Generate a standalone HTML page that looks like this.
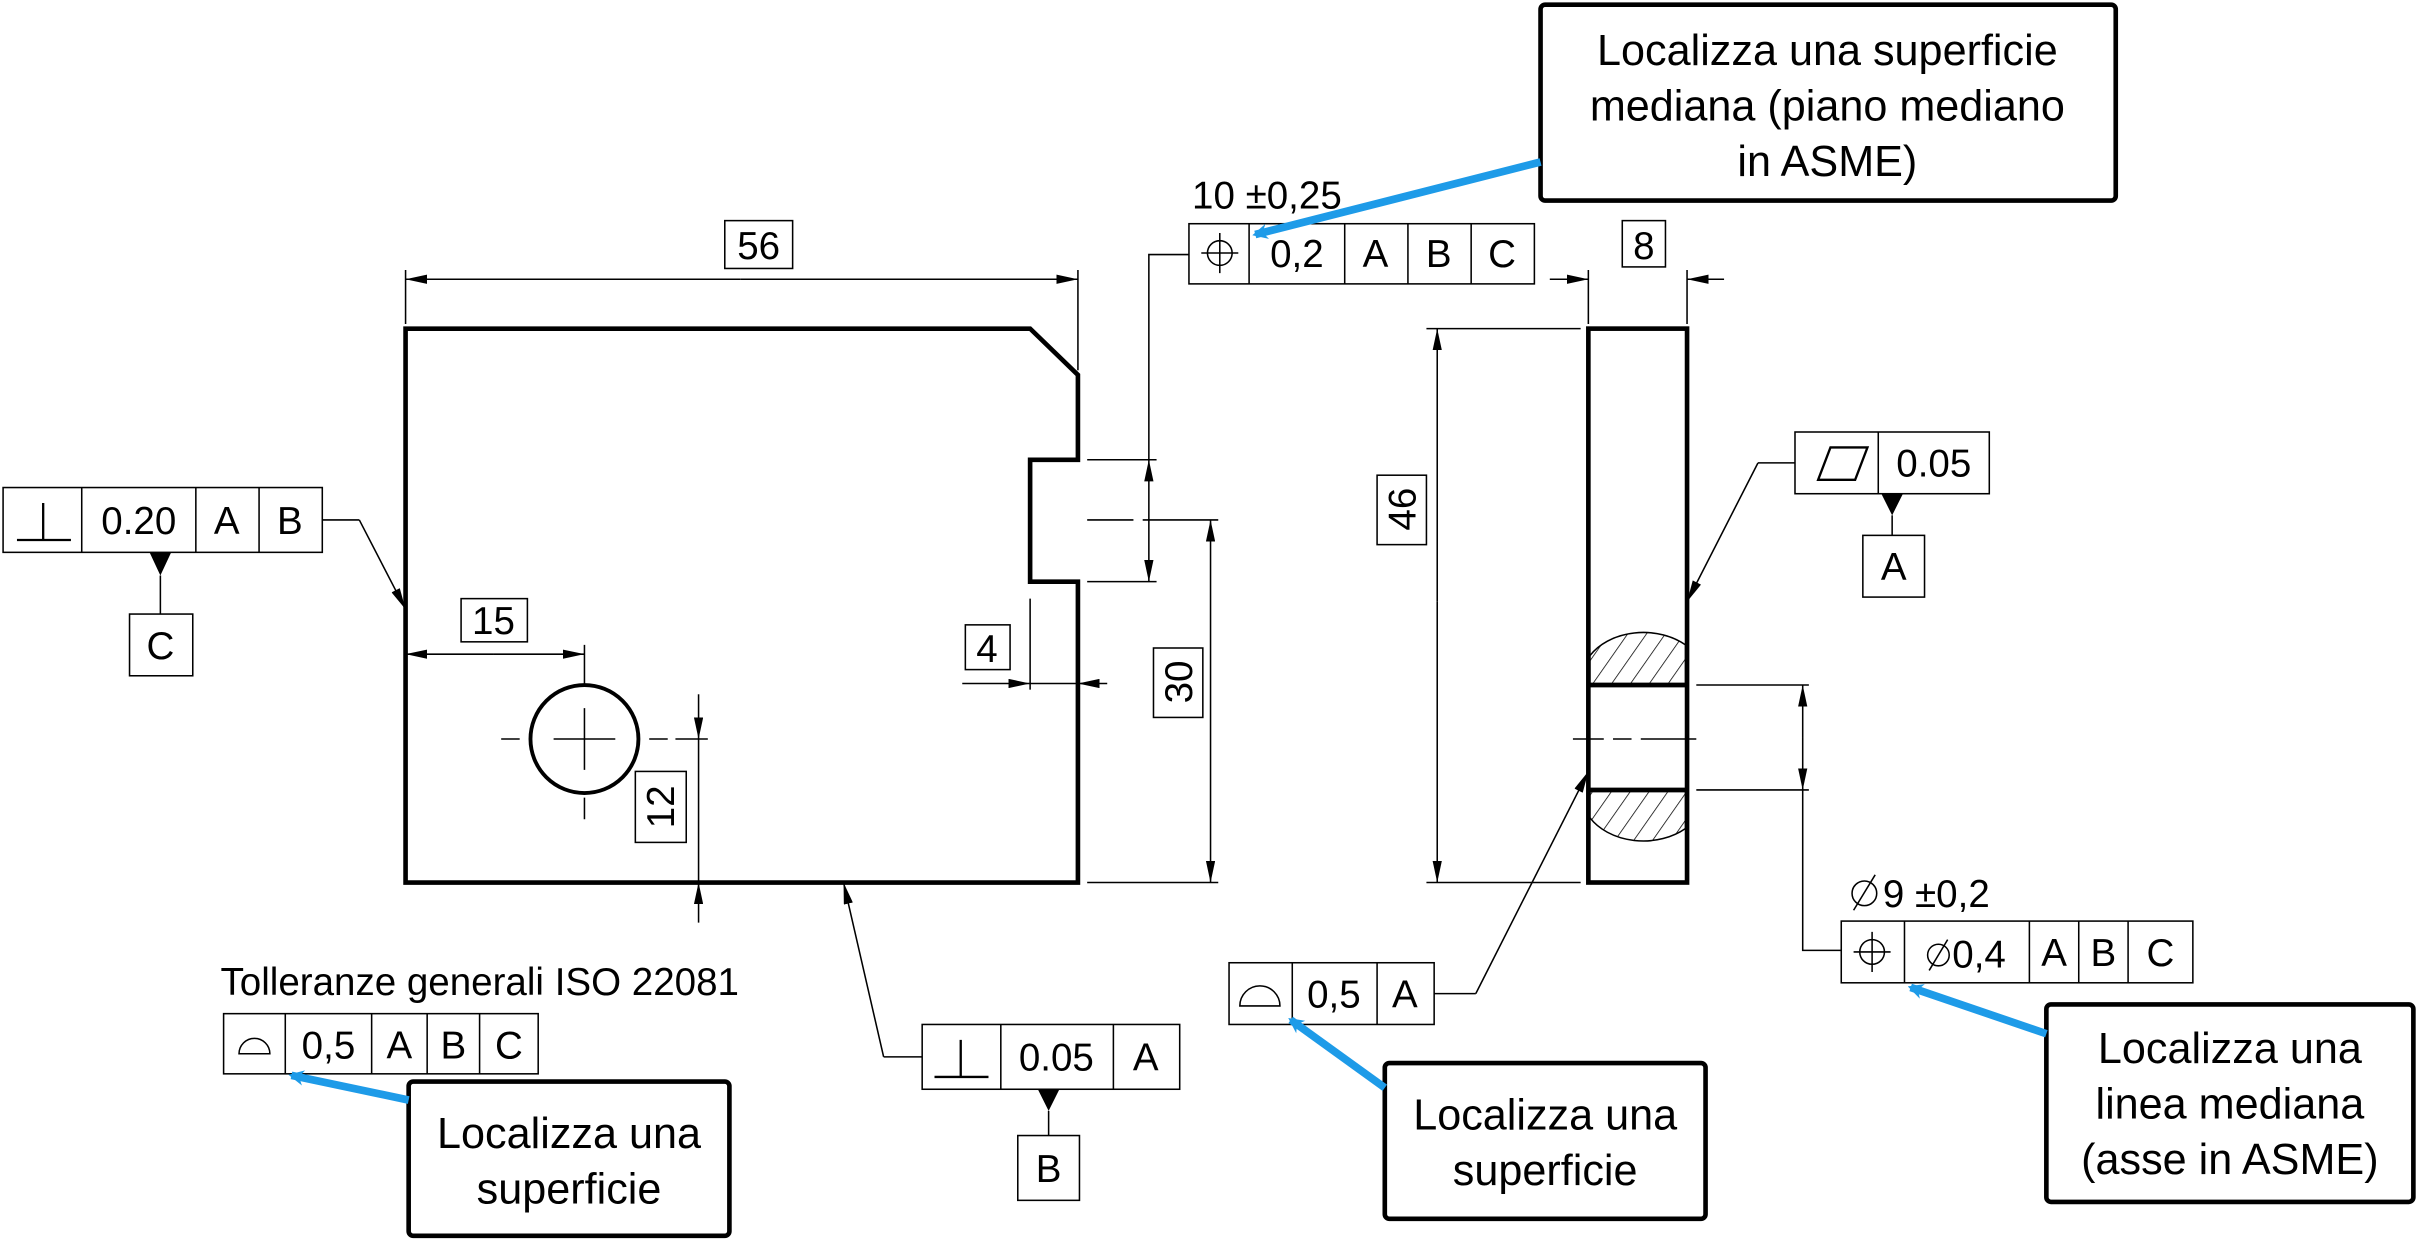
<!DOCTYPE html>
<html><head><meta charset="utf-8"><style>
html,body{margin:0;padding:0;background:#fff;}
svg{display:block;}
text{font-family:"Liberation Sans",sans-serif;fill:#000;}
</style></head><body>
<svg width="2418" height="1242" viewBox="0 0 1568 805" preserveAspectRatio="none" xmlns="http://www.w3.org/2000/svg">
<defs>
<marker id="a" viewBox="0 0 14 6" refX="14" refY="3" markerWidth="14" markerHeight="6" markerUnits="userSpaceOnUse" orient="auto"><path d="M0,0 L14,3 L0,6z" fill="#000"/></marker>
<marker id="b" viewBox="0 0 10 10" refX="8" refY="5" markerWidth="10" markerHeight="10" markerUnits="userSpaceOnUse" orient="auto"><path d="M0,0 L10,5 L0,10 L3,5z" fill="#1e9be8"/></marker>
<pattern id="h" width="10" height="10" patternUnits="userSpaceOnUse" patternTransform="rotate(35)"><line x1="0" y1="0" x2="0" y2="10" stroke="#000" stroke-width="1"/></pattern>
</defs>
<g fill="none" stroke="#000" stroke-width="1">
<path d="M263,213 H668 L699,243 V298 H668 V377 H699 V572 H263 Z" stroke-width="3"/>
<line x1="263" y1="175" x2="263" y2="210"/><line x1="699" y1="175" x2="699" y2="240"/>
<line x1="480" y1="181" x2="263" y2="181" marker-end="url(#a)"/><line x1="480" y1="181" x2="699" y2="181" marker-end="url(#a)"/>
<rect x="470" y="143" width="44" height="31"/>
<circle cx="379" cy="479" r="35" stroke-width="2.5"/>
<path d="M325,479 H337 M359,479 H399 M421,479 H433 M379,459 V499 M379,517 V531 M379,418 V445"/>
<line x1="320" y1="424" x2="379" y2="424" marker-end="url(#a)"/><line x1="320" y1="424" x2="263" y2="424" marker-end="url(#a)"/>
<rect x="299" y="388" width="43" height="28"/>
<path d="M438,479 H459"/>
<line x1="453" y1="450" x2="453" y2="479" marker-end="url(#a)"/>
<line x1="453" y1="598" x2="453" y2="572" marker-end="url(#a)"/>
<line x1="453" y1="479" x2="453" y2="572"/>
<rect x="412" y="500" width="33" height="46"/>
<line x1="668" y1="388" x2="668" y2="447"/>
<line x1="624" y1="443" x2="668" y2="443" marker-end="url(#a)"/>
<line x1="718" y1="443" x2="699" y2="443" marker-end="url(#a)"/>
<line x1="668" y1="443" x2="699" y2="443"/>
<rect x="626" y="405" width="29" height="29"/>
<path d="M705,298 H750 M705,377 H750 M705,337 H735 M741,337 H790 M705,572 H790"/>
<line x1="745" y1="337" x2="745" y2="298" marker-end="url(#a)"/><line x1="745" y1="337" x2="745" y2="377" marker-end="url(#a)"/>
<path d="M745,298 V165 H771"/>
<line x1="785" y1="455" x2="785" y2="337" marker-end="url(#a)"/><line x1="785" y1="455" x2="785" y2="572" marker-end="url(#a)"/>
<rect x="748" y="420" width="32" height="45"/>
<rect x="771" y="145" width="224" height="39"/>
<path d="M810,145 V184 M872,145 V184 M913,145 V184 M954,145 V184"/>
<circle cx="791" cy="164" r="8"/><path d="M779,164 H803 M791,151 V177"/>
<rect x="2" y="316" width="207" height="42"/>
<path d="M53,316 V358 M127,316 V358 M168,316 V358"/>
<path d="M11,350 H46 M28,326 V350" stroke-width="1.5"/>
<path d="M104,373 V398"/><rect x="84" y="398" width="41" height="40"/>
<polyline points="209,337 233,337"/>
<line x1="233" y1="337" x2="263" y2="395" marker-end="url(#a)"/>
<rect x="598" y="664" width="167" height="42"/>
<path d="M649,664 V706 M722,664 V706"/>
<path d="M606,698 H641 M623,674 V698" stroke-width="1.5"/>
<path d="M680,720 V736"/><rect x="660" y="736" width="40" height="42"/>
<polyline points="598,685 573,685"/>
<line x1="573" y1="685" x2="547" y2="572" marker-end="url(#a)"/>
<rect x="145" y="657" width="204" height="39"/>
<path d="M185,657 V696 M241,657 V696 M277,657 V696 M311,657 V696"/>
<path d="M155,683 A10,10 0 0 1 175,683 Z"/>
<rect x="1030" y="213" width="64" height="359" stroke-width="3"/>
<path d="M1030,444 H1094 M1030,512 H1094" stroke-width="3"/>
<path d="M1031,443 V425 A40,30 0 0 1 1093,418 V443 Z" fill="url(#h)"/>
<path d="M1031,513 V530 A40,30 0 0 0 1093,537 V513 Z" fill="url(#h)"/>
<path d="M1020,479 H1040 M1046,479 H1058 M1064,479 H1100"/>
<path d="M1030,175 V210 M1094,175 V210"/>
<line x1="1005" y1="181" x2="1030" y2="181" marker-end="url(#a)"/>
<line x1="1118" y1="181" x2="1094" y2="181" marker-end="url(#a)"/>
<rect x="1052" y="143" width="28" height="30"/>
<path d="M925,213 H1025 M925,572 H1025"/>
<line x1="932" y1="390" x2="932" y2="213" marker-end="url(#a)"/><line x1="932" y1="390" x2="932" y2="572" marker-end="url(#a)"/>
<rect x="893" y="308" width="32" height="45"/>
<rect x="1164" y="280" width="126" height="40"/>
<path d="M1218,280 V320"/>
<path d="M1179,311 L1187,290 H1211 L1203,311 Z" stroke-width="1.5"/>
<path d="M1227,334 V347"/><rect x="1208" y="347" width="40" height="40"/>
<polyline points="1164,300 1140,300"/>
<line x1="1140" y1="300" x2="1094" y2="390" marker-end="url(#a)"/>
<path d="M1100,444 H1173 M1100,512 H1173"/>
<line x1="1169" y1="478" x2="1169" y2="444" marker-end="url(#a)"/><line x1="1169" y1="478" x2="1169" y2="512" marker-end="url(#a)"/>
<path d="M1169,512 V616 H1194"/>
<rect x="1194" y="597" width="228" height="40"/>
<path d="M1235,597 V637 M1316,597 V637 M1348,597 V637 M1380,597 V637"/>
<circle cx="1214" cy="617" r="8"/><path d="M1202,617 H1226 M1214,604 V630"/>
<rect x="797" y="624" width="133" height="40"/>
<path d="M838,624 V664 M893,624 V664"/>
<path d="M804,652 A13,13 0 0 1 830,652 Z"/>
<polyline points="930,644 957,644"/>
<line x1="957" y1="644" x2="1030" y2="500" marker-end="url(#a)"/>
<!-- diameter symbols -->
<circle cx="1209" cy="579" r="8"/><line x1="1202" y1="590" x2="1216" y2="567"/>
<circle cx="1257" cy="619" r="7"/><line x1="1251" y1="629" x2="1263" y2="609"/>
</g>
<path d="M97,358 L111,358 L104,373Z M673,706 L687,706 L680,720Z M1220,320 L1234,320 L1227,334Z" fill="#000"/>
<g font-size="25">
<text x="492" y="168" text-anchor="middle">56</text>
<text x="320" y="411" text-anchor="middle">15</text>
<text x="640" y="429" text-anchor="middle">4</text>
<text x="1066" y="168" text-anchor="middle">8</text>
<text transform="translate(437,523) rotate(-90)" text-anchor="middle">12</text>
<text transform="translate(773,442) rotate(-90)" text-anchor="middle">30</text>
<text transform="translate(918,330) rotate(-90)" text-anchor="middle">46</text>
<text x="773" y="135">10 ±0,25</text>
<text x="841" y="173" text-anchor="middle">0,2</text>
<text x="892" y="173" text-anchor="middle">A</text>
<text x="933" y="173" text-anchor="middle">B</text>
<text x="974" y="173" text-anchor="middle">C</text>
<text x="90" y="346" text-anchor="middle">0.20</text>
<text x="147" y="346" text-anchor="middle">A</text>
<text x="188" y="346" text-anchor="middle">B</text>
<text x="104" y="427" text-anchor="middle">C</text>
<text x="685" y="694" text-anchor="middle">0.05</text>
<text x="743" y="694" text-anchor="middle">A</text>
<text x="680" y="766" text-anchor="middle">B</text>
<text x="143" y="645">Tolleranze generali ISO 22081</text>
<text x="213" y="686" text-anchor="middle">0,5</text>
<text x="259" y="686" text-anchor="middle">A</text>
<text x="294" y="686" text-anchor="middle">B</text>
<text x="330" y="686" text-anchor="middle">C</text>
<text x="1254" y="309" text-anchor="middle">0.05</text>
<text x="1228" y="376" text-anchor="middle">A</text>
<text x="1221" y="588">9 ±0,2</text>
<text x="1266" y="627">0,4</text>
<text x="1332" y="626" text-anchor="middle">A</text>
<text x="1364" y="626" text-anchor="middle">B</text>
<text x="1401" y="626" text-anchor="middle">C</text>
<text x="865" y="653" text-anchor="middle">0,5</text>
<text x="911" y="653" text-anchor="middle">A</text>
</g>
<g fill="#fff" stroke="#000" stroke-width="3">
<rect x="999" y="3" width="373" height="127" rx="3"/>
<rect x="265" y="701" width="208" height="100" rx="3"/>
<rect x="898" y="689" width="208" height="101" rx="3"/>
<rect x="1327" y="651" width="238" height="128" rx="3"/>
</g>
<g font-size="28" text-anchor="middle">
<text x="1185" y="42">Localizza una superficie</text>
<text x="1185" y="78">mediana (piano mediano</text>
<text x="1185" y="114">in ASME)</text>
<text x="369" y="744">Localizza una</text>
<text x="369" y="780">superficie</text>
<text x="1002" y="732">Localizza una</text>
<text x="1002" y="768">superficie</text>
<text x="1446" y="689">Localizza una</text>
<text x="1446" y="725">linea mediana</text>
<text x="1446" y="761">(asse in ASME)</text>
</g>
<g stroke="#1e9be8" stroke-width="5" fill="none">
<line x1="999" y1="105" x2="814" y2="152" marker-end="url(#b)"/>
<line x1="265" y1="713" x2="189" y2="697" marker-end="url(#b)"/>
<line x1="898" y1="705" x2="837" y2="661" marker-end="url(#b)"/>
<line x1="1327" y1="670" x2="1239" y2="640" marker-end="url(#b)"/>
</g>
</svg>
</body></html>
